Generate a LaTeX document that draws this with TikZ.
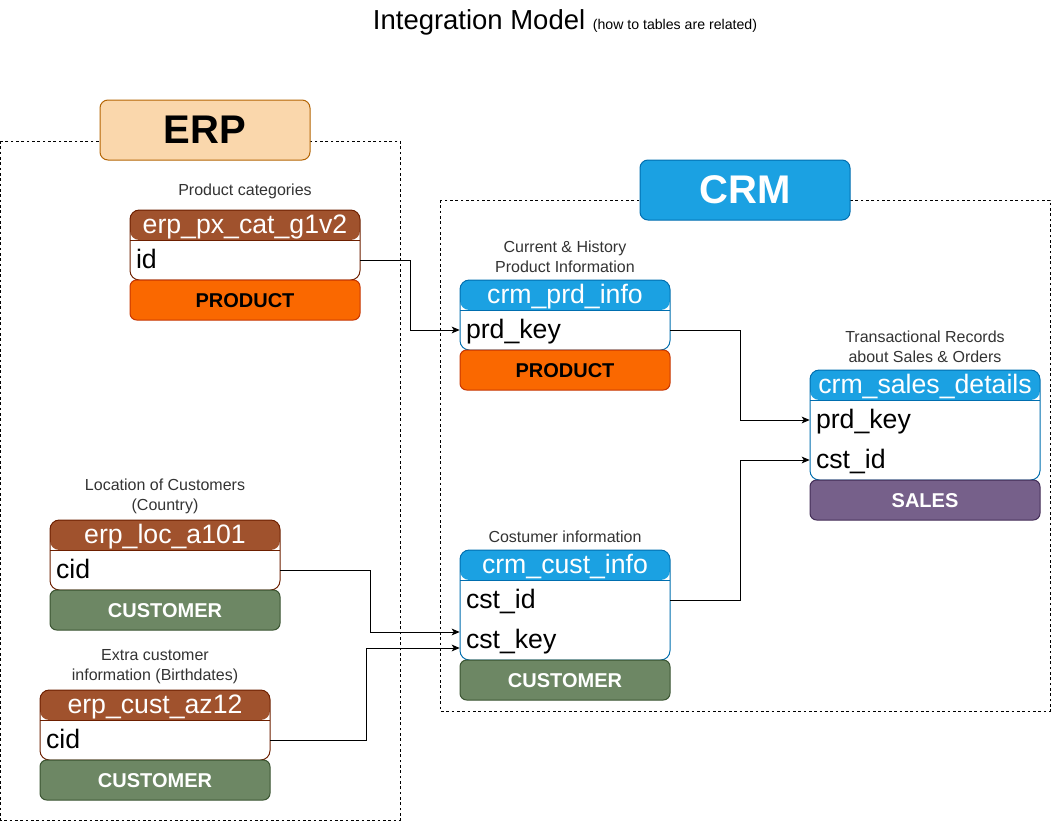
\documentclass[tikz,border=0pt]{standalone}
\usepackage{fontspec}
\setmainfont{Liberation Sans}
\usetikzlibrary{arrows.meta}

\definecolor{erpfill}{HTML}{FAD7AC}
\definecolor{erpline}{HTML}{B46504}
\definecolor{crmfill}{HTML}{1BA1E2}
\definecolor{crmline}{HTML}{006EAF}
\definecolor{brownfill}{HTML}{A0522D}
\definecolor{brownline}{HTML}{6D1F00}
\definecolor{prodfill}{HTML}{FA6800}
\definecolor{prodline}{HTML}{C73500}
\definecolor{custfill}{HTML}{6D8764}
\definecolor{custline}{HTML}{3A5431}
\definecolor{salesfill}{HTML}{76608A}
\definecolor{salesline}{HTML}{432D57}

\tikzset{
    group/.style={draw, line width=0.6pt, dash pattern=on 2pt off 2pt},
    sysbox/.style={draw=#1line, fill=#1fill, rounded corners=6pt, line width=0.75pt,
        minimum width=157.5pt, minimum height=45pt, font=\fontsize{30pt}{34pt}\selectfont\bfseries},
    tbl/.style 2 args={draw=#2, fill=white, rounded corners=7pt, line width=0.75pt,
        path picture={
            \fill[#1] (path picture bounding box.north west) rectangle ([yshift=-22.5pt]path picture bounding box.north east);
            \draw[#2, line width=0.75pt] ([yshift=-22.5pt]path picture bounding box.north west) -- ([yshift=-22.5pt]path picture bounding box.north east);
        }},
    head/.style={text=white, inner sep=0pt, text height=16pt, text depth=4pt,
        font=\fontsize{20pt}{24pt}\selectfont},
    field/.style={text width=#1, inner xsep=4.5pt, inner ysep=0pt, minimum height=30pt,
        text height=16pt, text depth=4pt, align=left, font=\fontsize{20pt}{24pt}\selectfont},
    tag/.style={draw=#1line, fill=#1fill, rounded corners=5pt, line width=0.75pt,
        minimum height=30pt, text height=11pt, text depth=0pt, font=\fontsize{15pt}{18pt}\selectfont\bfseries},
    note/.style={text=black!80, align=center, inner sep=0pt, yshift=-1.2pt, font=\fontsize{12pt}{15pt}\selectfont},
    link/.style={draw, line width=0.75pt, -{Stealth[length=6pt,width=5pt,inset=1.5pt]}}
}

\begin{document}
\begin{tikzpicture}[x=0.75pt, y=-0.75pt]
    \useasboundingbox (0,0) rectangle (1051,821);

    % title
    \node[anchor=base] (title) at (565,30) {\fontsize{20.6pt}{24pt}\selectfont Integration Model {\fontsize{10.6pt}{12pt}\selectfont (how to tables are related)}};

    % source systems
    \draw[group] (0.6,141) rectangle (400,820);
    \draw[group] (440,200) rectangle (1050,711);
    \node[sysbox=erp] (erp) at (205,130) {ERP};
    \node[sysbox=crm, text=white] (crm) at (745,190) {CRM};

    % erp_px_cat_g1v2
    \node[note] (pxcat-note) at (245,190) {Product categories};
    \node[tbl={brownfill}{brownline}, minimum width=172.5pt, minimum height=52.5pt] (pxcat) at (245,245) {};
    \node[head] (pxcat-head) at (245,225) {erp\_px\_cat\_g1v2};
    \node[field=163.5pt] (pxcat-id) at (245,260) {id};
    \node[tag=prod, minimum width=172.5pt] (pxcat-tag) at (245,300) {PRODUCT};

    % crm_prd_info
    \node[note] (prdinfo-note) at (565,255) {Current \& History\\Product Information};
    \node[tbl={crmfill}{crmline}, minimum width=157.5pt, minimum height=52.5pt] (prdinfo) at (565,315) {};
    \node[head] (prdinfo-head) at (565,295) {crm\_prd\_info};
    \node[field=148.5pt] (prdinfo-key) at (565,330) {prd\_key};
    \node[tag=prod, minimum width=157.5pt] (prdinfo-tag) at (565,370) {PRODUCT};

    % crm_sales_details
    \node[note] (sales-note) at (925,345) {Transactional Records\\about Sales \& Orders};
    \node[tbl={crmfill}{crmline}, minimum width=172.5pt, minimum height=82.5pt] (sales) at (925,425) {};
    \node[head] (sales-head) at (925,385) {crm\_sales\_details};
    \node[field=163.5pt] (sales-prd) at (925,420) {prd\_key};
    \node[field=163.5pt] (sales-cst) at (925,460) {cst\_id};
    \node[tag=sales, text=white, minimum width=172.5pt] (sales-tag) at (925,500) {SALES};

    % crm_cust_info
    \node[note] (custinfo-note) at (565,535) {Costumer information};
    \node[tbl={crmfill}{crmline}, minimum width=157.5pt, minimum height=82.5pt] (custinfo) at (565,605) {};
    \node[head] (custinfo-head) at (565,565) {crm\_cust\_info};
    \node[field=148.5pt] (custinfo-id) at (565,600) {cst\_id};
    \node[field=148.5pt] (custinfo-key) at (565,640) {cst\_key};
    \node[tag=cust, text=white, minimum width=157.5pt] (custinfo-tag) at (565,680) {CUSTOMER};

    % erp_loc_a101
    \node[note] (loc-note) at (165,495) {Location of Customers\\(Country)};
    \node[tbl={brownfill}{brownline}, minimum width=172.5pt, minimum height=52.5pt] (loc) at (165,555) {};
    \node[head] (loc-head) at (165,535) {erp\_loc\_a101};
    \node[field=163.5pt] (loc-cid) at (165,570) {cid};
    \node[tag=cust, text=white, minimum width=172.5pt] (loc-tag) at (165,610) {CUSTOMER};

    % erp_cust_az12
    \node[note] (cust-note) at (155,665) {Extra customer\\information (Birthdates)};
    \node[tbl={brownfill}{brownline}, minimum width=172.5pt, minimum height=52.5pt] (cust) at (155,725) {};
    \node[head] (cust-head) at (155,705) {erp\_cust\_az12};
    \node[field=163.5pt] (cust-cid) at (155,740) {cid};
    \node[tag=cust, text=white, minimum width=172.5pt] (cust-tag) at (155,780) {CUSTOMER};

    % relations
    \draw[link] (pxcat-id.east) -- ++(50,0) |- (prdinfo-key.west);
    \draw[link] (prdinfo-key.east) -- ++(70,0) |- (sales-prd.west);
    \draw[link] (custinfo-id.east) -- ++(70,0) |- (sales-cst.west);
    \draw[link] (loc-cid.east) -- ++(90,0) |- ([yshift=6pt]custinfo-key.west);
    \draw[link] (cust-cid.east) -- ++(96,0) |- ([yshift=-6pt]custinfo-key.west);
\end{tikzpicture}
\end{document}
